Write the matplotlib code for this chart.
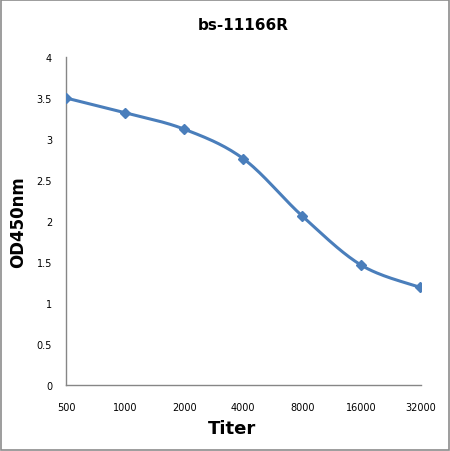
import numpy as np
import matplotlib
matplotlib.use("Agg")
import matplotlib.pyplot as plt
from matplotlib.patches import Rectangle

# Data
titers = ["500", "1000", "2000", "4000", "8000", "16000", "32000"]
od450 = [3.50, 3.32, 3.12, 2.76, 2.06, 1.46, 1.19]
y_ticks = [0, 0.5, 1, 1.5, 2, 2.5, 3, 3.5, 4]
y_tick_labels = ["0", "0.5", "1", "1.5", "2", "2.5", "3", "3.5", "4"]

line_color = "#4a7ebb"
axis_color = "#868686"

plt.rcParams['font.family'] = ['DejaVu Sans']


def smooth_curve(x, y, n=30):
    # Catmull-Rom style smoothing, similar to the office "smoothed line"
    x = np.asarray(x, float)
    y = np.asarray(y, float)
    px = np.concatenate([[x[0]], x, [x[-1]]])
    py = np.concatenate([[y[0]], y, [y[-1]]])
    xs, ys = [], []
    for i in range(1, len(px) - 2):
        p0 = np.array([px[i - 1], py[i - 1]])
        p1 = np.array([px[i], py[i]])
        p2 = np.array([px[i + 1], py[i + 1]])
        p3 = np.array([px[i + 2], py[i + 2]])
        c1 = p1 + (p2 - p0) / 6.0
        c2 = p2 - (p3 - p1) / 6.0
        t = np.linspace(0, 1, n)[:, None]
        pts = ((1 - t) ** 3) * p1 + 3 * ((1 - t) ** 2) * t * c1 \
            + 3 * (1 - t) * t ** 2 * c2 + t ** 3 * p2
        xs.extend(pts[:, 0])
        ys.extend(pts[:, 1])
    return np.array(xs), np.array(ys)


fig = plt.figure(figsize=(4.5, 4.52), dpi=100)
fig.patches.append(Rectangle((0.003, 0.003), 0.994, 0.994, transform=fig.transFigure,
                             fill=False, edgecolor="#8c8c8c", linewidth=1.2))
ax = fig.add_axes([0.1467, 0.146, 0.789, 0.7257])

xpos = np.arange(len(titers))
sx, sy = smooth_curve(xpos, od450)
ax.plot(sx, sy, color=line_color, linewidth=2.2, solid_capstyle="round", zorder=3)
ax.plot(xpos, od450, linestyle="none", marker="D", markersize=5.5,
        color=line_color, zorder=4)

ax.set_xlim(0, len(titers) - 1 + 0.01)
ax.set_ylim(0, 4)
ax.set_xticks(xpos)
ax.set_xticklabels(titers, fontsize=7)
ax.set_yticks(y_ticks)
ax.set_yticklabels(y_tick_labels, fontsize=7)
ax.tick_params(axis='x', length=0, pad=12)
ax.tick_params(axis='y', length=0, pad=10)

for pos in ['top', 'right']:
    ax.spines[pos].set_visible(False)
for pos in ['left', 'bottom']:
    ax.spines[pos].set_color(axis_color)
    ax.spines[pos].set_linewidth(1.0)

ax.set_title("bs-11166R", fontsize=11, fontweight="bold", pad=20)
ax.set_ylabel("OD450nm", fontsize=12, fontweight="bold")
ax.set_xlabel("Titer", fontsize=13, fontweight="bold")
ax.yaxis.set_label_coords(-0.11, 0.5)
ax.xaxis.set_label_coords(0.468, -0.105)

fig.savefig("out.png", dpi=100)
